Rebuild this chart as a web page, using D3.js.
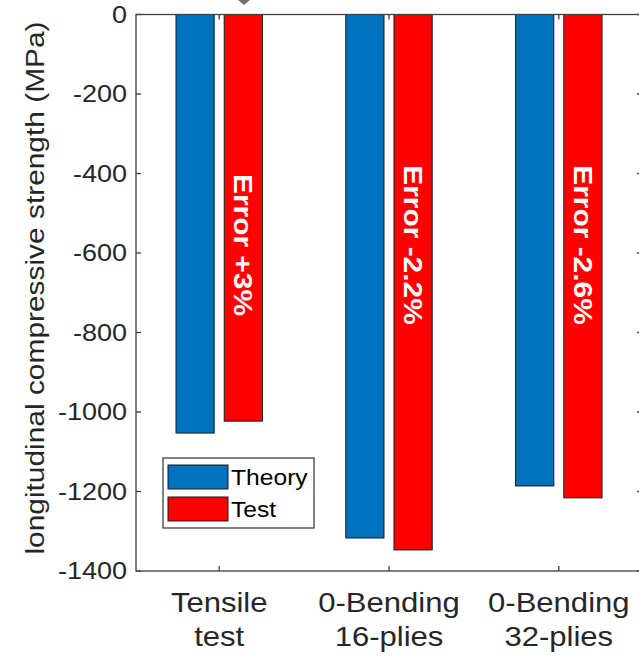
<!DOCTYPE html>
<html>
<head>
<meta charset="utf-8">
<script src="https://cdn.jsdelivr.net/npm/d3@7"></script>
<style>
body{margin:0;background:#fff}
text{font-family:"Liberation Sans",Arial,sans-serif}
</style>
</head>
<body>
<div id="chart"></div>
<script>
const categories=[["Tensile","test"],["0-Bending","16-plies"],["0-Bending","32-plies"]]
const theory=[-1053,-1317,-1186]
const test=[-1023,-1347,-1216]
const errors=["Error +3%","Error -2.2%","Error -2.6%"]
const yTicks=[0,-200,-400,-600,-800,-1000,-1200,-1400]
const seriesNames=["Theory","Test"]
const seriesColors=["#0072BD","#FF0000"]

const width=639,height=656
const plotLeft=136,plotRight=642,plotTop=14.5,plotBottom=571
// the figure's font is a bit wider than Arial
const stretch=1.15

const svg=d3.select("#chart").append("svg")
.attr("width",width).attr("height",height)

const x=d3.scaleLinear().domain([0.51,3.49]).range([plotLeft,plotRight])
const y=d3.scaleLinear().domain([0,-1400]).range([plotTop,plotBottom])

const barW=0.225,off=0.142
const axisColor="#404040"

// bars
const series=[theory,test]
series.forEach((vals,s)=>{
svg.append("g").selectAll("rect")
.data(vals)
.enter()
.append("rect")
.attr("x",(d,i)=>x(i+1+(s===0?-off:off)-barW/2))
.attr("width",x(barW)-x(0))
.attr("y",y(0))
.attr("height",d=>y(d)-y(0))
.attr("fill",seriesColors[s])
.attr("stroke","#1a1a1a")
.attr("stroke-width",1)
})

// error labels, rotated
svg.append("g").selectAll("text")
.data(errors)
.enter()
.append("text")
.attr("transform",(d,i)=>`translate(${x(i+1+off)},245) rotate(90) scale(${stretch},1)`)
.attr("text-anchor","middle")
.attr("dy","0.36em")
.attr("fill","#fff")
.attr("font-weight","bold")
.attr("font-size",26)
.text(d=>d)

// frame
const frame=svg.append("g").attr("stroke",axisColor).attr("stroke-width",1.3).attr("fill","none")
frame.append("rect").attr("x",plotLeft).attr("y",plotTop).attr("width",plotRight-plotLeft).attr("height",plotBottom-plotTop)

// ticks, all four sides, pointing in
const tk=5
yTicks.forEach(v=>{
frame.append("line").attr("x1",plotLeft).attr("x2",plotLeft+tk).attr("y1",y(v)).attr("y2",y(v))
frame.append("line").attr("x1",plotRight).attr("x2",plotRight-tk).attr("y1",y(v)).attr("y2",y(v))
})
categories.forEach((c,i)=>{
frame.append("line").attr("x1",x(i+1)).attr("x2",x(i+1)).attr("y1",plotBottom).attr("y2",plotBottom-tk)
frame.append("line").attr("x1",x(i+1)).attr("x2",x(i+1)).attr("y1",plotTop).attr("y2",plotTop+tk)
})

// y tick labels
svg.append("g").selectAll("text")
.data(yTicks)
.enter()
.append("text")
.attr("transform",d=>`translate(${plotLeft-9},${y(d)}) scale(${stretch},1)`)
.attr("dy","0.36em")
.attr("text-anchor","end")
.attr("font-size",23.5)
.attr("fill","#262626")
.text(d=>d===0?"0":"-"+Math.abs(d))

// x labels
const xl=svg.append("g").selectAll("text")
.data(categories)
.enter()
.append("text")
.attr("transform",(d,i)=>`translate(${x(i+1)},0) scale(${stretch},1)`)
.attr("text-anchor","middle")
.attr("font-size",27)
.attr("fill","#262626")
xl.append("tspan").attr("x",0).attr("y",612).text(d=>d[0])
xl.append("tspan").attr("x",0).attr("y",646).text(d=>d[1])

// y label
svg.append("text")
.attr("transform",`translate(44,288) rotate(-90) scale(${stretch},1)`)
.attr("text-anchor","middle")
.attr("font-size",26)
.attr("fill","#262626")
.text("longitudinal compressive strength (MPa)")

// legend
const lg=svg.append("g")
lg.append("rect").attr("x",163).attr("y",458).attr("width",151).attr("height",70)
.attr("fill","#fff").attr("stroke",axisColor).attr("stroke-width",1.3)
seriesNames.forEach((n,i)=>{
lg.append("rect").attr("x",168).attr("y",465+i*32).attr("width",60).attr("height",24)
.attr("fill",seriesColors[i]).attr("stroke","#1a1a1a")
lg.append("text").attr("transform",`translate(231,${477+i*32}) scale(1.12,1)`).attr("dy","0.36em")
.attr("font-size",22).attr("fill","#000").text(n)
})

// cut-off marker at top
svg.append("path").attr("d","M238,0 L250,0 L244,5 Z").attr("fill","#707070")
</script>
</body>
</html>
